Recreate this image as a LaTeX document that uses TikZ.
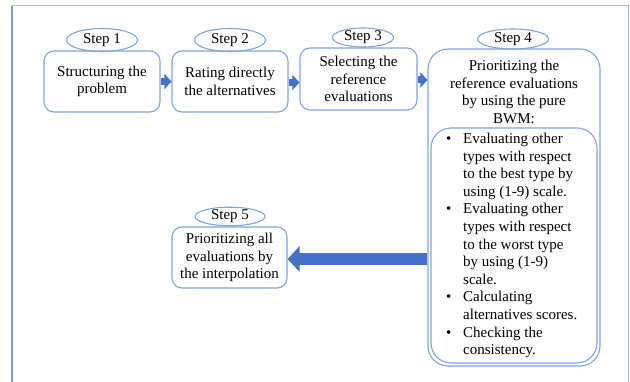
\documentclass[tikz,border=0pt]{standalone}
\usepackage{fontspec}
\setmainfont{Liberation Serif}
\usetikzlibrary{arrows.meta,shapes.geometric}
\definecolor{boxblue}{HTML}{7EA4E2}
\definecolor{arrowblue}{HTML}{4472C4}
\definecolor{framecol}{HTML}{A9BCE0}
\definecolor{frameleft}{HTML}{7F96C8}
\tikzset{
  txt/.style={font=\fontsize{15}{17.5}\selectfont, align=center},
  stepbox/.style={draw=boxblue, line width=1.1pt, rounded corners=10pt, inner sep=0pt, txt},
  steplabel/.style={draw=boxblue, line width=1.1pt, ellipse, inner sep=0pt, txt},
  blockarrow/.style={draw=arrowblue, line width=7pt, -{Triangle[width=15pt,length=7pt]}},
  bigarrow/.style={draw=arrowblue, line width=12pt, -{Triangle[width=25pt,length=12pt]}}
}
\begin{document}
\begin{tikzpicture}[x=1pt,y=-1pt]
\useasboundingbox (0,0) rectangle (630,382);
% frame
\draw[framecol, line width=1pt] (12,382) -- (12,6) -- (628,6) -- (628,382);
\draw[frameleft, line width=1.2pt] (12,382) -- (12,6);

% boxes
\node[stepbox, minimum width=116pt, minimum height=61pt] (b1) at (102,81.5) {Structuring the\\problem};
\node[stepbox, minimum width=116pt, minimum height=61pt] (b2) at (230,81.5) {Rating directly\\the alternatives};
\node[stepbox, minimum width=117pt, minimum height=62pt] (b3) at (358.5,79) {Selecting the\\reference\\evaluations};
\node[stepbox, rounded corners=20pt, minimum width=172pt, minimum height=317pt] (b4) at (514,207.5) {};
\node[stepbox, rounded corners=20pt, minimum width=166pt, minimum height=235pt] (b4in) at (514,245.5) {};
\node[txt, inner sep=0pt] (b4t) at (514,92) {Prioritizing the\\reference evaluations\\by using the pure\\BWM:};
\node[anchor=north west, inner sep=0pt, font=\fontsize{15}{17.6}\selectfont] (list) at (446,131) {%
\begin{tabular}{@{}p{17pt}@{}l@{}}
\textbullet & Evaluating other\\
 & types with respect\\
 & to the best type by\\
 & using (1-9) scale.\\
\textbullet & Evaluating other\\
 & types with respect\\
 & to the worst type\\
 & by using (1-9)\\
 & scale.\\
\textbullet & Calculating\\
 & alternatives scores.\\
\textbullet & Checking the\\
 & consistency.
\end{tabular}};
\node[stepbox, minimum width=115pt, minimum height=61pt] (b5) at (229.5,257.5) {Prioritizing all\\evaluations by\\the interpolation};

% step labels
\node[steplabel, minimum width=71pt, minimum height=23pt] (e1) at (102,40) {Step 1};
\node[steplabel, minimum width=71pt, minimum height=23pt] (e2) at (230,40) {Step 2};
\node[steplabel, minimum width=61pt, minimum height=19pt] (e3) at (363,37.5) {Step 3};
\node[steplabel, minimum width=71pt, minimum height=20pt] (e4) at (513,39) {Step 4};
\node[steplabel, minimum width=70pt, minimum height=17pt] (e5) at (230,216.5) {Step 5};

% arrows
\draw[blockarrow] (b1.east) -- (b2.west);
\draw[blockarrow] ([yshift=-1pt]b2.east) -- ([yshift=-1pt]b2.east -| b3.west);
\draw[blockarrow] (b3.east |- 0,80) -- (b4.west |- 0,80);
\draw[bigarrow] (b4.west |- 0,259) -- (b5.east |- 0,259);
\end{tikzpicture}
\end{document}
